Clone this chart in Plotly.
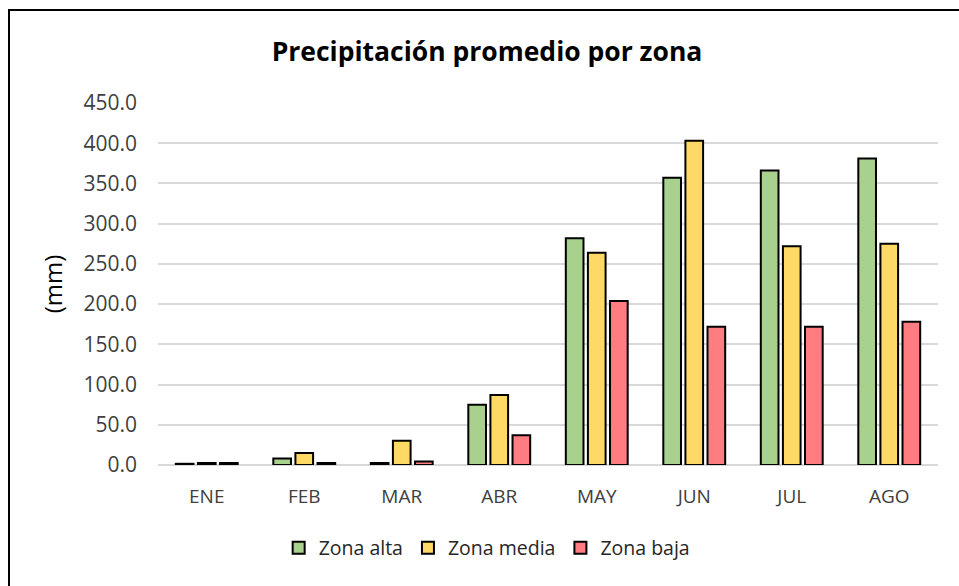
import plotly.graph_objects as go

months = ["ENE", "FEB", "MAR", "ABR", "MAY", "JUN", "JUL", "AGO"]
zona_alta = [1.5, 8.0, 2.5, 75.0, 282.0, 357.0, 366.0, 381.0]
zona_media = [2.5, 15.0, 30.0, 87.0, 264.0, 403.0, 272.0, 275.0]
zona_baja = [2.5, 2.5, 4.5, 37.0, 204.0, 172.0, 172.0, 178.0]
y_ticks = [0, 50, 100, 150, 200, 250, 300, 350, 400, 450]

FONT = "Open Sans"
W, H = 959, 586
ML, MR, MT, MB = 158, 21, 103, 121
PW, PH = W - ML - MR, H - MT - MB

fig = go.Figure()
for name, vals, col in [("Zona alta", zona_alta, "#A9D18E"),
                        ("Zona media", zona_media, "#FFD966"),
                        ("Zona baja", zona_baja, "#FF7C80")]:
    fig.add_trace(go.Bar(x=months, y=vals, name=name,
                         marker=dict(color=col, line=dict(color="black", width=2))))

fig.update_layout(
    width=W, height=H,
    margin=dict(l=ML, r=MR, t=MT, b=MB),
    paper_bgcolor="white", plot_bgcolor="white",
    barmode="group", bargap=0.32, bargroupgap=0.2,
    font=dict(family=FONT, size=18, color="#404040"),
    title=dict(text="<b>Precipitación promedio por zona</b>", x=487 / W, xref="container",
               xanchor="center", y=1 - 52 / H, yref="container", yanchor="middle",
               font=dict(family=FONT, size=26.5, color="black")),
    legend=dict(orientation="h", x=0.422, xanchor="center", y=-(548 - 465) / PH, yanchor="middle",
                font=dict(family=FONT, size=19.5, color="#262626"), itemwidth=30,
                traceorder="normal"),
    xaxis=dict(showgrid=False, showline=False, ticks="", ticklabelstandoff=18,
               tickfont=dict(family=FONT, size=19, color="#404040")),
    yaxis=dict(range=[0, 450], tickvals=y_ticks, tickformat=".1f", showgrid=True,
               gridcolor="#d9d9d9", gridwidth=1.5, zeroline=True, zerolinecolor="#d9d9d9",
               zerolinewidth=1.5, ticks="", ticklabelstandoff=20,
               tickfont=dict(family=FONT, size=21, color="#404040"),
               title=dict(text="(mm)", standoff=14, font=dict(family=FONT, size=24, color="black"))),
    showlegend=True,
)

# chart border (extends beyond right/bottom edge as in reference)
fig.add_shape(type="rect", xref="paper", yref="paper",
              x0=(9 - ML) / PW, x1=(W + 10 - ML) / PW,
              y0=-(MB + 10) / PH, y1=1 + (MT - 10) / PH,
              line=dict(color="black", width=2), fillcolor="rgba(0,0,0,0)", layer="below")

fig.write_html("out.html", config={"displayModeBar": False},
               post_script="document.body.style.margin='0px';")
